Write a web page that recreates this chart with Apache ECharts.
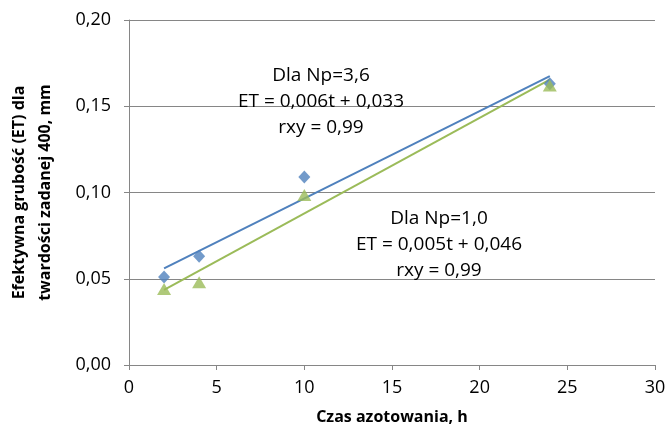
<!DOCTYPE html>
<html>
<head>
<meta charset="utf-8">
<script src="https://cdn.jsdelivr.net/npm/echarts@6/dist/echarts.min.js"></script>
<style>
  html, body { margin: 0; padding: 0; background: #fff; }
  #chart { width: 666px; height: 426px; }
</style>
</head>
<body>
<div id="chart"></div>
<script>
// czas azotowania, h
var czas = [2, 4, 10, 24];
// Np = 3,6 (niebieskie romby)
var etNp36 = [0.051, 0.063, 0.109, 0.163];
// Np = 1,0 (zielone trojkaty)
var etNp10 = [0.044, 0.048, 0.0985, 0.162];
// linie trendu - odczytane konce
var trendX = [2, 24];
var trendNp36 = [0.056, 0.1675];
var trendNp10 = [0.0435, 0.1655];

var fontFam = '"Open Sans", "Noto Sans", sans-serif';
var gray = '#868686';

function pary(xs, ys) {
  return xs.map(function (x, i) { return [x, ys[i]]; });
}
function przecinek(v) {
  return v.toFixed(2).replace('.', ',');
}

var myChart = echarts.init(document.getElementById('chart'));
myChart.setOption({
  animation: false,
  grid: { left: 129, right: 11, top: 20, bottom: 61, outerBoundsMode: 'none', containLabel: false },
  xAxis: {
    type: 'value',
    min: 0, max: 30, interval: 5,
    name: 'Czas azotowania, h',
    nameLocation: 'middle',
    nameGap: 44,
    nameTextStyle: { fontFamily: fontFam, fontSize: 16, fontWeight: 'bold', color: '#000' },
    axisLine: { lineStyle: { color: gray } },
    axisTick: { show: true, length: 5, lineStyle: { color: gray } },
    axisLabel: { fontFamily: fontFam, fontSize: 18, color: '#000', margin: 14 },
    splitLine: { show: false }
  },
  yAxis: {
    type: 'value',
    min: 0, max: 0.2, interval: 0.05,
    name: 'Efektywna grubość (ET) dla\ntwardości zadanej 400, mm',
    nameLocation: 'middle',
    nameGap: 71,
    nameRotate: 90,
    nameTextStyle: { fontFamily: fontFam, fontSize: 16, fontWeight: 'bold', color: '#000', lineHeight: 26 },
    axisLine: { show: true, lineStyle: { color: gray } },
    axisTick: { show: true, length: 5, lineStyle: { color: gray } },
    axisLabel: { fontFamily: fontFam, fontSize: 18, color: '#000', margin: 18, formatter: przecinek },
    splitLine: { show: true, lineStyle: { color: gray, width: 1 } }
  },
  series: [
    {
      type: 'line',
      data: pary(trendX, trendNp36),
      symbol: 'none',
      lineStyle: { color: '#4F81BD', width: 2 },
      z: 2
    },
    {
      type: 'line',
      data: pary(trendX, trendNp10),
      symbol: 'none',
      lineStyle: { color: '#9BBB59', width: 2 },
      z: 2
    },
    {
      type: 'scatter',
      data: pary(czas, etNp36),
      symbol: 'diamond',
      symbolSize: [12, 13],
      itemStyle: { color: '#4F81BD' },
      z: 3
    },
    {
      type: 'scatter',
      data: pary(czas, etNp10),
      symbol: 'triangle',
      symbolSize: [14, 12],
      itemStyle: { color: '#9BBB59' },
      z: 3
    }
  ],
  graphic: [
    {
      type: 'text', x: 321, y: 63, z: 10,
      style: {
        text: 'Dla Np=3,6\nET = 0,006t + 0,033\nrxy = 0,99',
        font: '19px ' + fontFam, fill: '#000', align: 'center', verticalAlign: 'top', lineHeight: 26
      }
    },
    {
      type: 'text', x: 439, y: 206, z: 10,
      style: {
        text: 'Dla Np=1,0\nET = 0,005t + 0,046\nrxy = 0,99',
        font: '19px ' + fontFam, fill: '#000', align: 'center', verticalAlign: 'top', lineHeight: 26
      }
    }
  ]
});
</script>
</body>
</html>
